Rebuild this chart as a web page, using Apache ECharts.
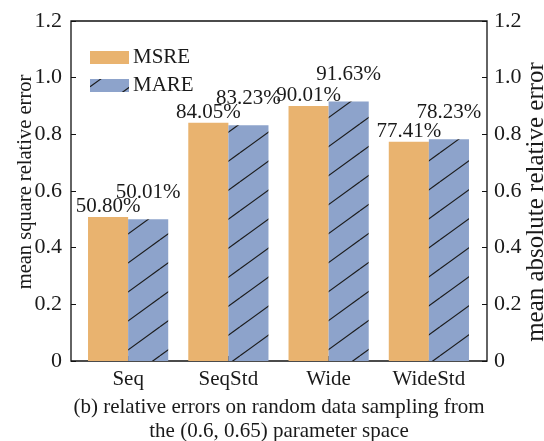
<!DOCTYPE html>
<html>
<head>
<meta charset="utf-8">
<script src="https://cdn.jsdelivr.net/npm/echarts@6/dist/echarts.min.js"></script>
<style>
  html, body { margin: 0; padding: 0; background: #fff; }
  #chart { width: 544px; height: 441px; }
</style>
</head>
<body>
<div id="chart"></div>
<script>
// Sampling strategies and their relative errors (in percent)
const categories = ['Seq', 'SeqStd', 'Wide', 'WideStd'];
const msrePct = [50.80, 84.05, 90.01, 77.41];
const marePct = [50.01, 83.23, 91.63, 78.23];
const seriesNames = ['MSRE', 'MARE'];

const FONT = '"Liberation Serif", "DejaVu Serif", serif';
const ORANGE = '#E9B36F';
const BLUE = '#8DA3CB';
const INK = '#1a1a1a';

// Hatched fill: blue background with "/" strokes
function hatchPattern() {
  const w = 40, h = 29, c = 7.8;
  const cv = document.createElement('canvas');
  cv.width = w; cv.height = h;
  const ctx = cv.getContext('2d');
  ctx.fillStyle = BLUE;
  ctx.fillRect(0, 0, w, h);
  ctx.strokeStyle = '#1b1b1b';
  ctx.lineWidth = 1.1;
  for (let k = -2; k <= 3; k++) {
    ctx.beginPath();
    ctx.moveTo(0, c + h * k);
    ctx.lineTo(w, c - h + h * k);
    ctx.stroke();
  }
  return { image: cv, repeat: 'repeat' };
}

const fmtYTick = v => (v === 0 ? '0' : v.toFixed(1));
const text21 = { fontFamily: FONT, fontSize: 21, color: INK };
const yLabelText = { fontFamily: FONT, fontSize: 22, color: INK };

const chart = echarts.init(document.getElementById('chart'), null, { renderer: 'canvas' });

chart.setOption({
  animation: false,
  backgroundColor: '#fff',
  grid: [
    // outer frame with both value axes
    { left: 71, right: 57, top: 21, bottom: 80, outerBoundsMode: 'none', containLabel: false,
      show: true, borderColor: '#111', borderWidth: 1.3, backgroundColor: 'transparent' },
    // inner band that holds the categories and bars
    { left: 78, right: 65, top: 21, bottom: 80, outerBoundsMode: 'none', containLabel: false }
  ],
  legend: {
    data: seriesNames,
    orient: 'vertical',
    left: 90, top: 47, padding: 0,
    icon: 'rect',
    itemWidth: 39, itemHeight: 13, itemGap: 7,
    textStyle: { fontFamily: FONT, fontSize: 21, color: INK, padding: [0, 0, 0, -1] }
  },
  xAxis: [
    { type: 'category', gridIndex: 0, data: categories, show: false },
    {
      type: 'category', gridIndex: 1, data: categories,
      axisLine: { show: false },
      axisTick: { show: true, inside: true, alignWithLabel: true, length: 5, lineStyle: { color: '#111' } },
      axisLabel: Object.assign({ margin: 8 }, text21)
    }
  ],
  yAxis: [
    {
      type: 'value', gridIndex: 0, position: 'left', min: 0, max: 1.2, interval: 0.2,
      name: 'mean square relative error', nameLocation: 'middle', nameGap: 35,
      nameMoveOverlap: false,
      nameTextStyle: { fontFamily: FONT, fontSize: 20.5, color: INK, padding: [0, 0, 0, 18] },
      axisLine: { show: false },
      axisTick: { show: true, inside: true, length: 5, lineStyle: { color: '#111' } },
      axisLabel: Object.assign({ margin: 9, formatter: fmtYTick }, yLabelText),
      splitLine: { show: false }
    },
    {
      type: 'value', gridIndex: 0, position: 'right', min: 0, max: 1.2, interval: 0.2,
      name: 'mean absolute relative error', nameLocation: 'middle', nameGap: 37,
      nameMoveOverlap: false,
      nameTextStyle: { fontFamily: FONT, fontSize: 25, color: INK, padding: [0, 22, 0, 0] },
      axisLine: { show: false },
      axisTick: { show: true, inside: true, length: 5, lineStyle: { color: '#111' } },
      axisLabel: Object.assign({ margin: 7, formatter: fmtYTick }, yLabelText),
      splitLine: { show: false }
    },
    { type: 'value', gridIndex: 1, min: 0, max: 1.2, show: false }
  ],
  series: [
    {
      name: seriesNames[0], type: 'bar', xAxisIndex: 1, yAxisIndex: 2,
      data: msrePct.map(p => p / 100),
      barGap: '0%', barCategoryGap: '20%',
      itemStyle: { color: ORANGE },
      label: {
        show: true, position: 'top', distance: 0,
        formatter: p => msrePct[p.dataIndex].toFixed(2) + '%',
        fontFamily: FONT, fontSize: 21, color: INK
      }
    },
    {
      name: seriesNames[1], type: 'bar', xAxisIndex: 1, yAxisIndex: 2,
      data: marePct.map(p => p / 100),
      barGap: '0%', barCategoryGap: '20%',
      itemStyle: { color: hatchPattern() },
      label: {
        show: true, position: 'top', distance: 0, offset: [0, -16],
        formatter: p => marePct[p.dataIndex].toFixed(2) + '%',
        fontFamily: FONT, fontSize: 21, color: INK
      }
    }
  ],
  graphic: [
    {
      type: 'text', x: 279, y: 395,
      style: {
        text: '(b) relative errors on random data sampling from\nthe (0.6, 0.65) parameter space',
        font: '21px ' + FONT, fill: INK,
        textAlign: 'center', textVerticalAlign: 'top', lineHeight: 24
      }
    }
  ]
});
</script>
</body>
</html>
